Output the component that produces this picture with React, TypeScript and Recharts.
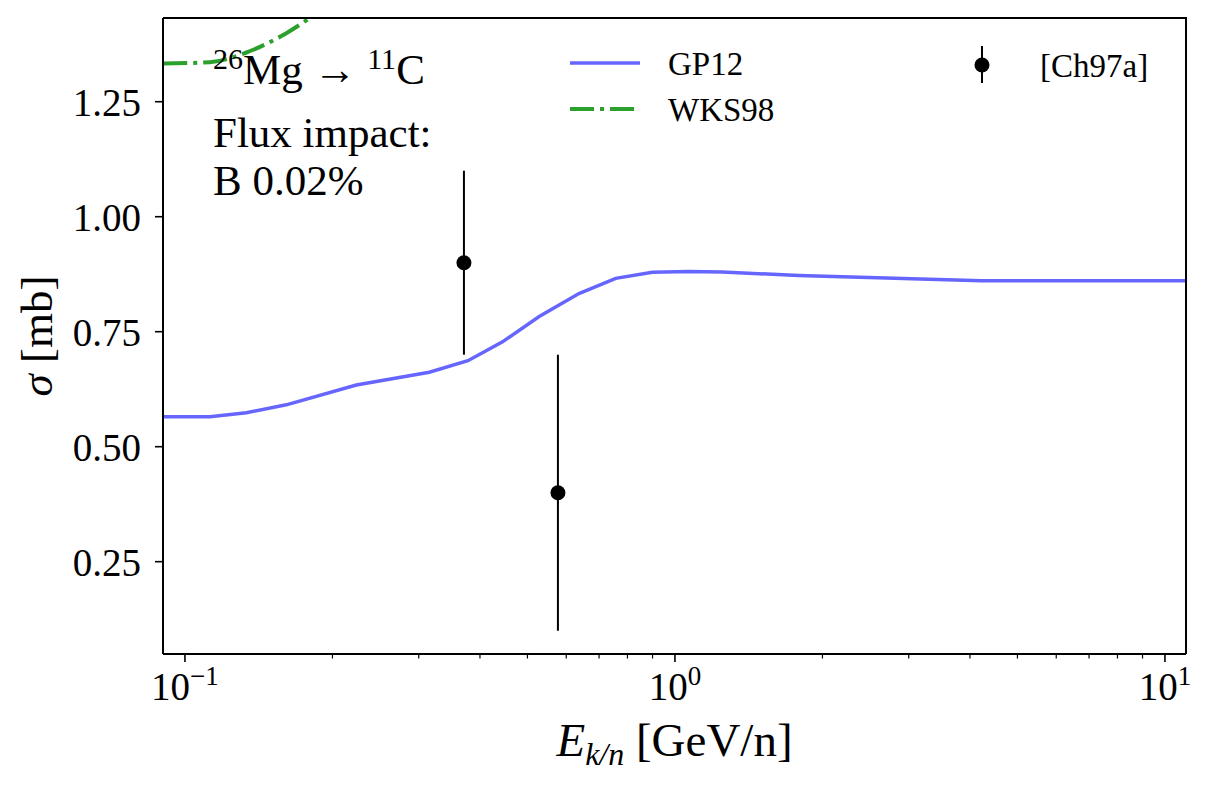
import { ComposedChart, Line, Scatter, ErrorBar, XAxis, YAxis } from 'recharts';

// GP12 cross-section curve
const gpEnergy = [0.0903, 0.1124, 0.1335, 0.161, 0.2237, 0.3153, 0.378, 0.4448, 0.5284, 0.637, 0.757, 0.899, 1.068, 1.248, 1.788, 4.225, 11.14];
const gpSigma = [0.565, 0.565, 0.574, 0.591, 0.634, 0.662, 0.687, 0.728, 0.783, 0.833, 0.866, 0.879, 0.881, 0.88, 0.872, 0.861, 0.861];

// WKS98 (leaves the frame at the top)
const wksEnergy = [0.0903, 0.1124, 0.1335, 0.161, 0.19];
const wksSigma = [1.333, 1.336, 1.357, 1.399, 1.45];

// [Ch97a] measurements
const chEnergy = [0.371, 0.577];
const chSigma = [0.9, 0.4];
const chErr = [0.2, 0.3];

const xMajorTicks = [0.1, 1, 10];
const xMinorTicks = [0.2, 0.3, 0.4, 0.5, 0.6, 0.7, 0.8, 0.9, 2, 3, 4, 5, 6, 7, 8, 9];
const yTicks = [0.25, 0.5, 0.75, 1.0, 1.25];

const gpData = gpEnergy.map((e, i) => ({ e, s: gpSigma[i] }));
const wksData = wksEnergy.map((e, i) => ({ e, s: wksSigma[i] }));
const chData = chEnergy.map((e, i) => ({ e, s: chSigma[i], err: chErr[i] }));

const FONT = "'Liberation Serif', 'Times New Roman', serif";
const serif = { fontFamily: FONT };
const W = 1210;
const H = 787;
const L = 163, T = 18, R = 1186, B = 654;

function XTick(props: any) {
  const { x, y, payload } = props;
  const v = payload.value;
  const major = xMajorTicks.includes(v);
  const exp = Math.round(Math.log10(v));
  return (
    <g>
      <line x1={x} x2={x} y1={y} y2={y + (major ? 8 : 4.5)} stroke="#000" strokeWidth={major ? 1.6 : 1.2} />
      {major && (
        <text x={x} y={y + 46} textAnchor="middle" fontSize={39} style={serif} fill="#000">
          10<tspan dy={-15} fontSize={27}>{exp < 0 ? '\u2212' + Math.abs(exp) : String(exp)}</tspan>
        </text>
      )}
    </g>
  );
}

function XLabel(props: any) {
  const { viewBox } = props;
  const cx = viewBox.x + viewBox.width / 2;
  return (
    <text x={cx} y={756} textAnchor="middle" fontSize={47} style={serif} fill="#000">
      <tspan fontStyle="italic">E</tspan>
      <tspan fontStyle="italic" fontSize={32} dy={9}>k/n</tspan>
      <tspan dy={-9}> [GeV/n]</tspan>
    </text>
  );
}

function YLabel() {
  return (
    <text x={52} y={336} transform="rotate(-90 52 336)" textAnchor="middle" fontSize={45} style={serif} fill="#000">
      <tspan fontStyle="italic">σ</tspan> [mb]
    </text>
  );
}

export default function App() {
  return (
    <div style={{ position: 'absolute', left: 0, top: 0, width: W, height: H, background: '#fff', fontFamily: FONT }}>
      <ComposedChart width={W} height={H} margin={{ top: T, right: W - R, bottom: 0, left: 0 }}>
        <XAxis
          dataKey="e"
          type="number"
          scale="log"
          domain={[0.0902, 11.04]}
          allowDataOverflow
          ticks={[...xMajorTicks, ...xMinorTicks].sort((a, b) => a - b)}
          interval={0}
          tick={<XTick />}
          tickLine={false}
          tickSize={0}
          tickMargin={0}
          height={H - B}
          axisLine={{ stroke: '#000', strokeWidth: 2 }}
          label={<XLabel />}
        />
        <YAxis
          dataKey="s"
          type="number"
          domain={[0.0493, 1.432]}
          allowDataOverflow
          ticks={yTicks}
          interval={0}
          tickFormatter={(v) => Number(v).toFixed(2)}
          tick={{ fontSize: 39, fill: '#000', style: serif }}
          tickSize={8}
          tickMargin={14}
          tickLine={{ stroke: '#000', strokeWidth: 1.6 }}
          axisLine={{ stroke: '#000', strokeWidth: 2 }}
          width={L}
          label={<YLabel />}
        />
        <Line data={wksData} dataKey="s" type="monotone" stroke="#2ca02c" strokeWidth={4} strokeDasharray="24 6 4 6" dot={false} isAnimationActive={false} />
        <Line data={gpData} dataKey="s" type="linear" stroke="#6666ff" strokeWidth={3.5} dot={false} isAnimationActive={false} />
        <Scatter
          data={chData}
          dataKey="s"
          fill="#000"
          isAnimationActive={false}
          shape={(p: any) => <circle cx={p.cx} cy={p.cy} r={7.5} fill="#000" />}
        >
          <ErrorBar dataKey="err" direction="y" width={0} stroke="#000" strokeWidth={2} isAnimationActive={false} />
        </Scatter>
      </ComposedChart>

      <svg width={W} height={H} style={{ position: 'absolute', left: 0, top: 0, pointerEvents: 'none' }}>
        <line x1={L} x2={R + 1} y1={T} y2={T} stroke="#000" strokeWidth={2} />
        <line x1={R} x2={R} y1={T} y2={B} stroke="#000" strokeWidth={2} />

        <g style={serif} fill="#000">
          <text x={213} y={84} fontSize={43}>
            <tspan fontSize={30} dy={-15}>26</tspan>
            <tspan dy={15}>Mg → </tspan>
            <tspan fontSize={30} dy={-15}>11</tspan>
            <tspan dy={15}>C</tspan>
          </text>
          <text x={213} y={147} fontSize={43}>Flux impact:</text>
          <text x={213} y={195} fontSize={43}>B 0.02%</text>
        </g>

        <g style={serif} fill="#000" fontSize={33}>
          <line x1={570} x2={640} y1={63} y2={63} stroke="#6666ff" strokeWidth={3.5} />
          <text x={668} y={75}>GP12</text>
          <line x1={570} x2={640} y1={109} y2={109} stroke="#2ca02c" strokeWidth={4} strokeDasharray="24 6 4 6" />
          <text x={668} y={121}>WKS98</text>
          <line x1={982} x2={982} y1={46} y2={83} stroke="#000" strokeWidth={2} />
          <circle cx={982} cy={65} r={7.5} fill="#000" />
          <text x={1040} y={77}>[Ch97a]</text>
        </g>
      </svg>
    </div>
  );
}
